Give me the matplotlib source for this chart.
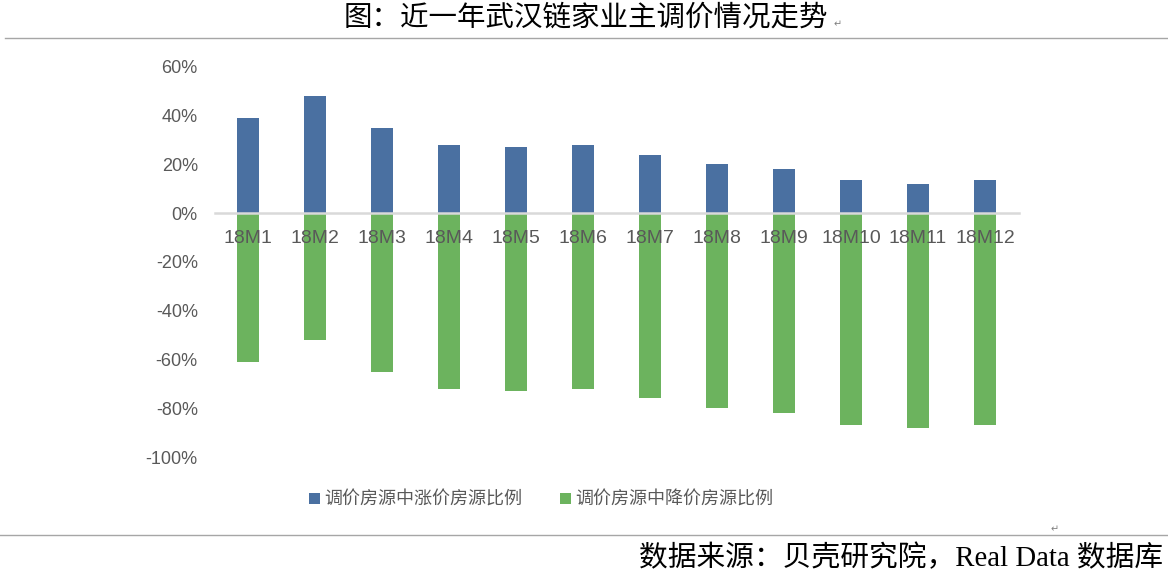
import matplotlib
matplotlib.use("Agg")
import matplotlib.pyplot as plt
from matplotlib.patches import Patch
from matplotlib.ticker import FuncFormatter
from matplotlib.lines import Line2D

categories = ["18M1", "18M2", "18M3", "18M4", "18M5", "18M6",
              "18M7", "18M8", "18M9", "18M10", "18M11", "18M12"]
rise_share = [39, 48, 35, 28, 27, 28, 24, 20, 18, 13.5, 12, 13.5]
fall_share = [-61, -52, -65, -72, -73, -72, -76, -80, -82, -87, -88, -87]
series_names = ["调价房源中涨价房源比例", "调价房源中降价房源比例"]
yticks = [-100, -80, -60, -40, -20, 0, 20, 40, 60]
title = "图：近一年武汉链家业主调价情况走势"
source = "数据来源：贝壳研究院，Real Data 数据库"

BLUE = "#4a70a1"
GREEN = "#6cb35e"
GRAY_TXT = "#595959"

plt.rcParams['font.family'] = ['Liberation Sans', 'Noto Sans CJK SC', 'DejaVu Sans']

W, H = 1168, 585
fig = plt.figure(figsize=(W / 100, H / 100), dpi=100)

ax = fig.add_axes([214.5 / W, 1 - 457 / H, 804 / W, (457 - 66.7) / H])
x = list(range(len(categories)))
ax.bar(x, rise_share, width=0.34, color=BLUE, zorder=1)
ax.bar(x, fall_share, width=0.32, color=GREEN, zorder=1)

ax.set_xlim(-0.5, len(categories) - 0.5)
ax.set_ylim(-100, 60)
ax.set_yticks(yticks)
ax.yaxis.set_major_formatter(FuncFormatter(lambda v, p: f"{int(v)}%".replace("\u2212", "-")))
ax.tick_params(axis='y', length=0, pad=12, labelsize=13, labelcolor=GRAY_TXT)

for s in ['top', 'right', 'left']:
    ax.spines[s].set_visible(False)
ax.spines['bottom'].set_position(('data', 0))
ax.spines['bottom'].set_color('#d9d9d9')
ax.spines['bottom'].set_linewidth(1.8)
ax.set_xticks(x)
ax.set_xticklabels(categories)
ax.tick_params(axis='x', length=0, pad=12, labelsize=14, labelcolor=GRAY_TXT)

handles = [Patch(facecolor=BLUE), Patch(facecolor=GREEN)]
fig.legend(handles, series_names, loc='center', ncol=2,
           bbox_to_anchor=(541 / W, 1 - 500 / H), frameon=False,
           prop={'family': ['Noto Sans CJK SC'], 'size': 13},
           labelcolor=GRAY_TXT, handlelength=0.6, handleheight=0.6,
           handletextpad=0.25, columnspacing=2.1)

# decorations: title, rules, source
fig.text(586 / W, 1 - 18 / H, title, ha='center', va='center', fontsize=20.5,
         family=['Noto Sans CJK SC'], color='black')
fig.text(838 / W, 1 - 24 / H, "\u21b5", ha='center', va='center', fontsize=7,
         family=['DejaVu Sans'], color='#808080')
fig.add_artist(Line2D([5 / W, 1], [1 - 38 / H, 1 - 38 / H], color='#a6a6a6', lw=1.0))
fig.add_artist(Line2D([0, 1], [1 - 535 / H, 1 - 535 / H], color='#a6a6a6', lw=1.0))
fig.text(1055 / W, 1 - 529 / H, "\u21b5", ha='center', va='center', fontsize=7,
         family=['DejaVu Sans'], color='#808080')
fig.text(1163 / W, 1 - 558 / H, source, ha='right', va='center', fontsize=20.7,
         family=['Liberation Serif', 'Noto Sans CJK SC'], color='black')

fig.savefig("out.png", dpi=100)
